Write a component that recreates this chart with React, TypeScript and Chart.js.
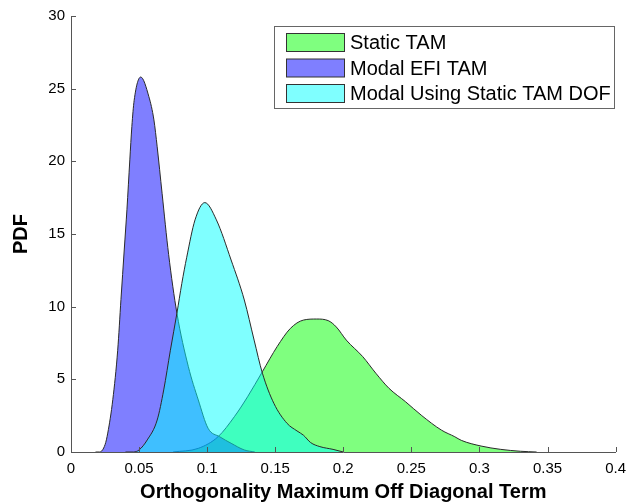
import React, { useEffect, useRef } from "react";
import { Chart, registerables } from "chart.js";

Chart.register(...registerables);

const xTicks = [0, 0.05, 0.1, 0.15, 0.2, 0.25, 0.3, 0.35, 0.4];
const yTicks = [0, 5, 10, 15, 20, 25, 30];

const seriesNames = ["Static TAM", "Modal EFI TAM", "Modal Using Static TAM DOF"];

const staticX = [0.075, 0.0935, 0.108, 0.12, 0.1297, 0.1406, 0.1514, 0.1611, 0.1708, 0.1804, 0.1889, 0.1949, 0.2022, 0.2143, 0.2239, 0.2336, 0.2457, 0.2577, 0.2722, 0.2819, 0.2867, 0.3012, 0.3157, 0.3302, 0.342];
const staticY = [0, 0.25, 1.05, 2.43, 3.8, 5.53, 7.25, 8.5, 9.08, 9.15, 9.04, 8.6, 7.7, 6.56, 5.42, 4.38, 3.46, 2.5, 1.5, 1.05, 0.8, 0.41, 0.18, 0.05, 0];

const efiX = [0.018, 0.021, 0.025, 0.027, 0.0307, 0.0343, 0.0367, 0.0391, 0.0411, 0.0432, 0.0447, 0.0464, 0.0512, 0.0572, 0.0609, 0.0633, 0.0669, 0.0717, 0.0778, 0.0862, 0.0935, 0.1007, 0.1092, 0.1176, 0.1273, 0.135];
const efiY = [0, 0, 0.5, 1.3, 3.6, 7.0, 10.5, 13.9, 16.7, 20.1, 22.4, 24.2, 25.8, 24.45, 22.85, 21.0, 17.8, 13.6, 9.55, 5.87, 3.58, 1.63, 1.05, 0.6, 0.14, 0];

const dofX = [0.04, 0.046, 0.05, 0.056, 0.0633, 0.0681, 0.073, 0.0778, 0.0814, 0.085, 0.0911, 0.0983, 0.1068, 0.1176, 0.1273, 0.1345, 0.1406, 0.149, 0.1587, 0.166, 0.1708, 0.176, 0.1828, 0.1925, 0.2];
const dofY = [0, 0, 0.14, 0.83, 2.2, 4.27, 7.0, 9.55, 11.6, 13.4, 15.97, 17.16, 15.97, 13.21, 10.46, 7.7, 5.42, 3.35, 1.97, 1.45, 1.15, 0.65, 0.37, 0.18, 0];

const fills = ["rgba(0,255,0,0.5)", "rgba(0,0,255,0.5)", "rgba(0,255,255,0.5)"];
const FONT = "'Liberation Sans', Arial, Helvetica, sans-serif";

const toPts = (xs: number[], ys: number[]) => xs.map((x, i) => ({ x, y: ys[i] }));

const tickPlugin = {
  id: "inwardTicks",
  afterDatasetsDraw(chart: any) {
    const { ctx, scales, chartArea } = chart;
    ctx.save();
    ctx.strokeStyle = "#555";
    ctx.lineWidth = 1;
    ctx.beginPath();
    xTicks.forEach((v) => {
      const px = Math.round(scales.x.getPixelForValue(v)) + 0.5;
      ctx.moveTo(px, chartArea.bottom);
      ctx.lineTo(px, chartArea.bottom - 5);
    });
    yTicks.forEach((v) => {
      const py = Math.round(scales.y.getPixelForValue(v)) + 0.5;
      ctx.moveTo(chartArea.left, py);
      ctx.lineTo(chartArea.left + 5, py);
    });
    ctx.stroke();
    ctx.restore();
  },
};

const legendPlugin = {
  id: "boxLegend",
  afterDraw(chart: any) {
    const ctx = chart.ctx;
    ctx.save();
    const bx = 274.5, by = 26.5, bw = 340, bh = 82;
    ctx.fillStyle = "#fff";
    ctx.fillRect(bx, by, bw, bh);
    ctx.strokeStyle = "#666";
    ctx.lineWidth = 1;
    ctx.strokeRect(bx, by, bw, bh);
    ctx.font = `20px ${FONT}`;
    ctx.textBaseline = "middle";
    seriesNames.forEach((name, i) => {
      const y = 33.5 + i * 25.5;
      ctx.fillStyle = "#fff";
      ctx.fillRect(286.5, y, 58, 18);
      ctx.fillStyle = fills[i];
      ctx.fillRect(286.5, y, 58, 18);
      ctx.strokeStyle = "#333";
      ctx.strokeRect(286.5, y, 58, 18);
      ctx.fillStyle = "#000";
      ctx.fillText(name, 350, y + 10);
    });
    ctx.restore();
  },
};

export default function App() {
  const ref = useRef<HTMLCanvasElement | null>(null);
  useEffect(() => {
    if (!ref.current) return;
    const mk = (label: string, xs: number[], ys: number[], color: string) => ({
      label,
      data: toPts(xs, ys),
      fill: "origin",
      backgroundColor: color,
      borderColor: "#2a2a2a",
      borderWidth: 1,
      pointRadius: 0,
      cubicInterpolationMode: "monotone" as const,
    });
    const chart = new Chart(ref.current, {
      type: "line",
      data: {
        datasets: [
          mk(seriesNames[2], dofX, dofY, fills[2]),
          mk(seriesNames[1], efiX, efiY, fills[1]),
          mk(seriesNames[0], staticX, staticY, fills[0]),
        ],
      },
      options: {
        responsive: false,
        animation: false,
        devicePixelRatio: 1,
        layout: { padding: { left: 0, right: 11, top: 16, bottom: 0 } },
        plugins: { legend: { display: false }, tooltip: { enabled: false } },
        scales: {
          x: {
            type: "linear",
            min: 0,
            max: 0.4,
            afterFit: (s: any) => { s.height = 52; },
            afterBuildTicks: (s: any) => { s.ticks = xTicks.map((v) => ({ value: v })); },
            ticks: {
              padding: 8,
              color: "#000",
              font: { family: FONT, size: 15 },
              callback: (v: any) => String(Number(Number(v).toFixed(2))),
            },
            grid: { display: false, drawTicks: false },
            border: { display: true, color: "#555", width: 1 },
            title: {
              display: true,
              text: "Orthogonality Maximum Off Diagonal Term",
              color: "#000",
              font: { family: FONT, size: 20, weight: "bold" },
              padding: { top: 0, bottom: 0 },
            },
          },
          y: {
            type: "linear",
            min: 0,
            max: 30,
            afterFit: (s: any) => { s.width = 71; },
            afterBuildTicks: (s: any) => { s.ticks = yTicks.map((v) => ({ value: v })); },
            ticks: {
              padding: 6,
              color: "#000",
              font: { family: FONT, size: 15 },
            },
            grid: { display: false, drawTicks: false },
            border: { display: true, color: "#555", width: 1 },
            title: {
              display: true,
              text: "PDF",
              color: "#000",
              font: { family: FONT, size: 20, weight: "bold" },
              padding: { top: 9, bottom: 0 },
            },
          },
        },
      },
      plugins: [tickPlugin, legendPlugin],
    });
    return () => chart.destroy();
  }, []);
  return (
    <div style={{ position: "fixed", left: 0, top: 0, width: 634, height: 504, background: "#fff" }}>
      <canvas ref={ref} width={634} height={504} />
    </div>
  );
}
